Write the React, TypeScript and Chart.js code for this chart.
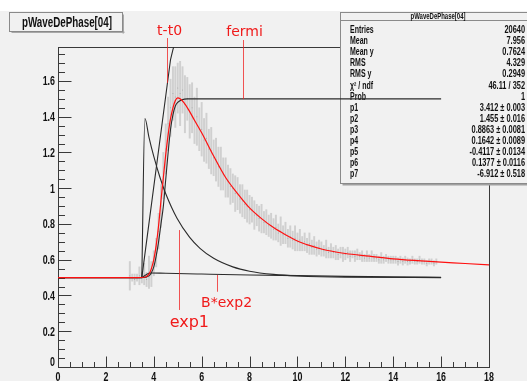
import React, { useEffect, useRef } from "react";
import { Chart, registerables } from "chart.js";
Chart.register(...registerables);

// ---------- axes ----------
const X_MIN = 0;
const X_MAX = 18;
const Y_MIN = 0;
const Y_MAX = 1.79;
const xTickLabels = [0, 2, 4, 6, 8, 10, 12, 14, 16, 18];
const yTickLabels = [0, 0.2, 0.4, 0.6, 0.8, 1, 1.2, 1.4, 1.6];

// ---------- histogram (bin centres start at histStart, width histStep) ----------
const histStart = 3.0;
const histStep = 0.1;
const histValues = [
  0.51, 0.50, 0.49, 0.50, 0.51, 0.50, 0.52, 0.49, 0.53, 0.52,
  0.58, 0.64, 0.76, 0.90, 1.07, 1.22, 1.36, 1.45, 1.53, 1.51,
  1.56, 1.53, 1.55, 1.47, 1.50, 1.43, 1.45, 1.38, 1.40, 1.33,
  1.33, 1.27, 1.28, 1.22, 1.21, 1.17, 1.16, 1.12, 1.11, 1.08,
  1.06, 1.04, 1.01, 1.00, 0.97, 0.97, 0.94, 0.93, 0.91, 0.90,
  0.88, 0.88, 0.85, 0.85, 0.83, 0.83, 0.81, 0.81, 0.79, 0.79,
  0.77, 0.78, 0.75, 0.76, 0.74, 0.75, 0.72, 0.73, 0.71, 0.72,
  0.70, 0.71, 0.69, 0.70, 0.68, 0.69, 0.67, 0.68, 0.66, 0.67,
  0.66, 0.65, 0.66, 0.64, 0.65, 0.64, 0.64, 0.63, 0.64, 0.63,
  0.63, 0.64, 0.62, 0.63, 0.62, 0.63, 0.62, 0.62, 0.61, 0.62,
  0.61, 0.62, 0.61, 0.61, 0.60, 0.61, 0.60, 0.61, 0.60, 0.60,
  0.60, 0.60, 0.59, 0.60, 0.59, 0.60, 0.59, 0.59, 0.60, 0.59,
  0.59, 0.60, 0.59, 0.59, 0.58, 0.59, 0.59, 0.58, 0.59,
];
const histErrors = [
  0.08, 0.02, 0.03, 0.02, 0.05, 0.03, 0.06, 0.04, 0.09, 0.07,
  0.07, 0.08, 0.10, 0.12, 0.13, 0.14, 0.15, 0.16, 0.15, 0.17,
  0.14, 0.18, 0.13, 0.16, 0.12, 0.15, 0.14, 0.13, 0.16, 0.12,
  0.15, 0.12, 0.14, 0.11, 0.13, 0.10, 0.12, 0.11, 0.12, 0.09,
  0.11, 0.09, 0.10, 0.08, 0.10, 0.09, 0.08, 0.09, 0.08, 0.09,
  0.08, 0.07, 0.08, 0.06, 0.07, 0.08, 0.06, 0.07, 0.06, 0.07,
  0.06, 0.07, 0.05, 0.08, 0.05, 0.06, 0.05, 0.06, 0.05, 0.07,
  0.05, 0.06, 0.04, 0.05, 0.04, 0.06, 0.04, 0.05, 0.04, 0.04,
  0.04, 0.03, 0.05, 0.03, 0.04, 0.03, 0.04, 0.03, 0.03, 0.04,
  0.03, 0.03, 0.03, 0.02, 0.03, 0.03, 0.02, 0.03, 0.02, 0.03,
  0.02, 0.03, 0.02, 0.02, 0.02, 0.03, 0.02, 0.02, 0.02, 0.02,
  0.02, 0.02, 0.02, 0.02, 0.02, 0.02, 0.02, 0.015, 0.02, 0.015,
  0.015, 0.02, 0.015, 0.015, 0.015, 0.015, 0.015, 0.015, 0.015,
];

// ---------- fit (red) ----------
const fitX = [0, 3.3, 3.6, 3.8, 3.9, 4.0, 4.1, 4.2, 4.3, 4.4, 4.5, 4.6, 4.7, 4.8, 4.9, 5.0, 5.1, 5.25, 5.45, 5.7, 6.0, 6.5, 7.0, 7.5, 8.0, 8.5, 9.0, 9.5, 10.0, 10.5, 11.0, 12.0, 13.0, 14.0, 15.0, 16.0, 17.0, 18.0];
const fitY = [0.5, 0.5, 0.502, 0.52, 0.55, 0.6, 0.68, 0.79, 0.93, 1.06, 1.19, 1.3, 1.39, 1.45, 1.49, 1.505, 1.5, 1.48, 1.44, 1.38, 1.31, 1.18, 1.06, 0.97, 0.89, 0.83, 0.78, 0.74, 0.705, 0.68, 0.66, 0.635, 0.62, 0.605, 0.595, 0.587, 0.579, 0.571];

// ---------- components (black) ----------
const baseX = [0, 3.5];
const baseY = [0.5, 0.5];
const exp1X = [3.5, 3.63, 3.8, 4.0, 4.26, 4.5, 4.97, 5.5, 5.93, 6.5, 7.3, 8.0, 9.0, 10.0, 12.0, 16.0];
const exp1Y = [0.5, 1.39, 1.285, 1.178, 1.06, 0.969, 0.832, 0.725, 0.664, 0.608, 0.56, 0.536, 0.518, 0.509, 0.502, 0.5];
const bexp2X = [3.5, 3.7, 3.85, 4.5, 6.0, 8.0, 10.0, 12.0, 14.0, 16.0];
const bexp2Y = [0.5, 0.518, 0.526, 0.524, 0.52, 0.515, 0.511, 0.507, 0.504, 0.502];
const ttX = [3.5, 4.7, 4.8, 4.92, 5.1, 16.0];
const ttY = [0.5, 1.72, 1.775, 1.83, 1.84, 1.84];
const fermiX = [0, 3.5, 3.8, 4.0, 4.1, 4.2, 4.3, 4.4, 4.5, 4.6, 4.7, 4.8, 4.9, 5.0, 5.18, 5.4, 16.0];
const fermiY = [0.5, 0.5, 0.51, 0.56, 0.62, 0.7, 0.8, 0.9, 1.05, 1.2, 1.33, 1.41, 1.46, 1.48, 1.495, 1.5, 1.5];

// ---------- stats box ----------
const statsTitle = "pWaveDePhase[04]";
const statsNames = ["Entries", "Mean", "Mean y", "RMS", "RMS y", "\u03C7\u00B2 / ndf", "Prob", "p1", "p2", "p3", "p4", "p5", "p6", "p7"];
const statsValues = ["20640", "7.956", "0.7624", "4.329", "0.2949", "46.11 / 352", "1", "3.412 \u00B1 0.003", "1.455 \u00B1 0.016", "0.8863 \u00B1 0.0081", "0.1642 \u00B1 0.0089", "-0.4117 \u00B1 0.0134", "0.1377 \u00B1 0.0116", "-6.912 \u00B1 0.518"];
const histTitle = "pWaveDePhase[04]";

// ---------- annotations (data coordinates) ----------
const annotations = [
  { text: "t-t0", size: 14, tx: 4.66, ty: 1.855, lx: 4.553, ly1: 1.84, ly2: 1.589 },
  { text: "fermi", size: 14, tx: 7.79, ty: 1.852, lx: 7.728, ly1: 1.829, ly2: 1.499 },
  { text: "exp1", size: 16, tx: 5.485, ty: 0.2255, lx: 5.054, ly1: 0.766, ly2: 0.319 },
  { text: "B*exp2", size: 14, tx: 7.04, ty: 0.3375, lx: 6.63, ly1: 0.515, ly2: 0.421 },
];

const ROOT_FONT = '"Liberation Sans", Arial, sans-serif';

function pairs(xs: number[], ys: number[]) {
  return xs.map((x, i) => ({ x, y: ys[i] }));
}

function drawCondensed(ctx: CanvasRenderingContext2D, text: string, x: number, y: number, font: string, align: string, sx: number, color: string, fitWidth?: number) {
  ctx.save();
  ctx.font = font;
  ctx.fillStyle = color;
  ctx.textBaseline = "alphabetic";
  ctx.textAlign = "left";
  const mw = ctx.measureText(text).width;
  const s = fitWidth ? fitWidth / mw : sx;
  const w = mw * s;
  const left = align === "left" ? x : align === "right" ? x - w : x - w / 2;
  ctx.translate(left, y);
  ctx.scale(s, 1);
  ctx.fillText(text, 0, 0);
  ctx.restore();
}

const rootPlugin = {
  id: "rootStyle",
  beforeDatasetsDraw(chart: any) {
    const { ctx, chartArea: ca } = chart;
    const xs = chart.scales.x;
    const ys = chart.scales.y;
    ctx.save();
    const L = Math.round(ca.left) + 0.5;
    const R = Math.round(ca.right) + 0.5;
    const T = Math.round(ca.top) + 0.5;
    const B = Math.round(ca.bottom) + 0.5;
    ctx.strokeStyle = "#3a3a3a";
    ctx.lineWidth = 1;
    ctx.strokeRect(L, T, R - L, B - T);

    // x ticks (inward)
    const xStepMinor = (xTickLabels[1] - xTickLabels[0]) / 4;
    ctx.beginPath();
    for (let v = X_MIN; v <= X_MAX + 1e-9; v += xStepMinor) {
      const isMajor = xTickLabels.some((t) => Math.abs(t - v) < 1e-6);
      const p = Math.round(xs.getPixelForValue(v)) + 0.5;
      ctx.moveTo(p, B);
      ctx.lineTo(p, B - (isMajor ? 11 : 5.5));
    }
    // y ticks (inward)
    const yStepMinor = (yTickLabels[1] - yTickLabels[0]) / 4;
    for (let v = Y_MIN; v <= Y_MAX + 1e-9; v += yStepMinor) {
      const isMajor = yTickLabels.some((t) => Math.abs(t - v) < 1e-6);
      const p = Math.round(ys.getPixelForValue(v)) + 0.5;
      ctx.moveTo(L, p);
      ctx.lineTo(L + (isMajor ? 13 : 6.5), p);
    }
    ctx.stroke();

    // tick labels
    const tf = `bold 12px ${ROOT_FONT}`;
    xTickLabels.forEach((v) => {
      drawCondensed(ctx, String(v), xs.getPixelForValue(v), ca.bottom + 13.5, tf, "center", 0.74, "#111");
    });
    yTickLabels.forEach((v) => {
      const off = v === 0 ? -5 : 0;
      drawCondensed(ctx, String(v), ca.left - 3, ys.getPixelForValue(v) + 4.3 + off, tf, "right", 0.74, "#111");
    });

    // stats box
    const bx = 340.5, by = 1.5, bw = 200, bh = 171;
    ctx.fillStyle = "#a0a0a0";
    ctx.fillRect(bx + 2, by + bh, bw, 2);
    ctx.fillStyle = "#f1f1f1";
    ctx.fillRect(bx, by, bw, bh);
    ctx.strokeStyle = "#8a8a8a";
    ctx.strokeRect(bx, by, bw, bh);
    ctx.beginPath();
    ctx.moveTo(bx, 9.5);
    ctx.lineTo(bx + bw, 9.5);
    ctx.stroke();
    drawCondensed(ctx, statsTitle, 438, 8, `bold 9px ${ROOT_FONT}`, "center", 1, "#111", 55);
    const sf = `bold 10px ${ROOT_FONT}`;
    statsNames.forEach((n, i) => {
      const y = 22 + i * 11.1;
      drawCondensed(ctx, n, 350, y, sf, "left", 0.7, "#111");
      drawCondensed(ctx, statsValues[i], 525, y, sf, "right", 0.74, "#111");
    });
    ctx.restore();
  },
  afterDatasetsDraw(chart: any) {
    const { ctx } = chart;
    const xs = chart.scales.x;
    const ys = chart.scales.y;
    ctx.save();
    // annotations
    annotations.forEach((a) => {
      const lx = Math.round(xs.getPixelForValue(a.lx)) + 0.5;
      ctx.strokeStyle = "rgba(240,30,30,0.75)";
      ctx.lineWidth = 1;
      ctx.beginPath();
      ctx.moveTo(lx, ys.getPixelForValue(a.ly1));
      ctx.lineTo(lx, ys.getPixelForValue(a.ly2));
      ctx.stroke();
      ctx.font = `${a.size}px "DejaVu Sans", sans-serif`;
      ctx.fillStyle = "#f01a1a";
      ctx.textAlign = "center";
      ctx.textBaseline = "alphabetic";
      ctx.fillText(a.text, xs.getPixelForValue(a.tx), ys.getPixelForValue(a.ty));
    });
    // title box
    const tx = 9.5, ty = 1.5, tw = 113, th = 19;
    ctx.fillStyle = "#a8a8a8";
    ctx.fillRect(tx + 2, ty + th, tw, 1.5);
    ctx.fillRect(tx + tw, ty + 2, 1.5, th);
    ctx.fillStyle = "#f1f1f1";
    ctx.fillRect(tx, ty, tw, th);
    ctx.strokeStyle = "#8a8a8a";
    ctx.strokeRect(tx, ty, tw, th);
    drawCondensed(ctx, histTitle, 67, 15.7, `bold 15px ${ROOT_FONT}`, "center", 1, "#111", 90);
    ctx.restore();
  },
};

export default function App() {
  const ref = useRef<HTMLCanvasElement>(null);
  useEffect(() => {
    const canvas = ref.current!;
    const histData = histValues.map((v, i) => ({
      x: Math.round((histStart + i * histStep) * 100) / 100,
      y: [v - histErrors[i], v + histErrors[i]],
    }));
    const markerData = histValues.map((v, i) => ({
      x: Math.round((histStart + i * histStep) * 100) / 100,
      y: v,
    }));
    const black = "#2b2b2b";
    const lineDs = (xs: number[], ys: number[], color: string, width: number, order: number, smooth = true) => ({
      type: "line" as const,
      data: pairs(xs, ys),
      borderColor: color,
      borderWidth: width,
      pointRadius: 0,
      fill: false,
      cubicInterpolationMode: smooth ? ("monotone" as const) : ("default" as const),
      tension: 0,
      order,
    });
    const chart = new Chart(canvas, {
      type: "line",
      data: {
        datasets: [
          lineDs(fitX, fitY, "#ff1010", 1.2, 1),
          lineDs(baseX, baseY, black, 1.1, 2, false),
          lineDs(exp1X, exp1Y, black, 1.1, 2),
          lineDs(bexp2X, bexp2Y, black, 1.1, 2),
          lineDs(ttX, ttY, black, 1.1, 2, false),
          lineDs(fermiX, fermiY, black, 1.1, 2),
          {
            type: "scatter" as const,
            data: markerData,
            pointRadius: 0.5,
            pointBackgroundColor: "#a5a5a5",
            pointBorderWidth: 0,
            showLine: false,
            order: 5,
          } as any,
          {
            type: "bar" as const,
            data: histData as any,
            backgroundColor: "#d0d0d0",
            barThickness: 1.3,
            grouped: false,
            order: 10,
          } as any,
        ],
      },
      options: {
        animation: false,
        responsive: false,
        devicePixelRatio: 1,
        events: [],
        layout: { padding: { left: 58, right: 38, top: 36, bottom: 14 } },
        plugins: { legend: { display: false }, tooltip: { enabled: false } },
        scales: {
          x: { type: "linear", min: X_MIN, max: X_MAX, display: false, offset: false },
          y: { type: "linear", min: Y_MIN, max: Y_MAX, display: false },
        },
      },
      plugins: [rootPlugin],
    });
    return () => chart.destroy();
  }, []);
  return (
    <div style={{ position: "fixed", left: 0, top: 0, width: 527, height: 381, background: "#ffffff", overflow: "hidden" }}>
      <canvas
        ref={ref}
        width={527}
        height={370}
        style={{ position: "absolute", left: 0, top: 11, width: 527, height: 370, background: "#f1f1f1" }}
      />
    </div>
  );
}
